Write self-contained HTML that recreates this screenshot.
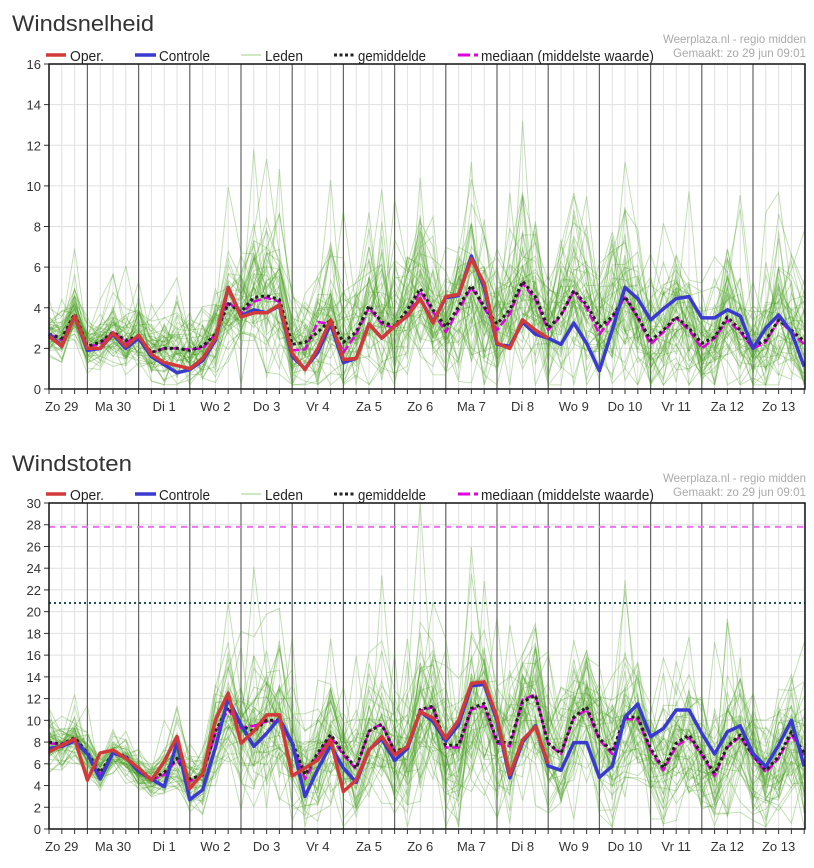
<!DOCTYPE html>
<html><head><meta charset="utf-8"><style>
body{margin:0;background:#fff;width:814px;height:868px;overflow:hidden;font-family:"Liberation Sans",sans-serif;}
svg{display:block}
</style></head><body>
<svg id="svg" width="814" height="868"></svg>
<script>
const days = ["Zo 29","Ma 30","Di 1","Wo 2","Do 3","Vr 4","Za 5","Zo 6","Ma 7","Di 8","Wo 9","Do 10","Vr 11","Za 12","Zo 13"];
// Windsnelheid
const speedOper = [2.6,2.1,3.6,2.0,2.0,2.75,2.1,2.65,1.7,1.3,1.15,1.0,1.5,2.5,5.0,3.55,3.75,3.75,4.15,1.75,0.95,2.0,3.4,1.45,1.5,3.2,2.5,3.1,3.6,4.45,3.25,4.55,4.65,6.4,5.2,2.25,2.0,3.4,2.9,2.5];
const speedCtrl = [2.7,2.1,3.6,1.9,2.0,2.7,2.0,2.5,1.6,1.2,0.8,0.95,1.4,2.4,5.0,3.6,3.9,3.75,4.1,1.6,1.0,1.8,3.2,1.3,1.5,3.2,2.5,3.1,3.6,4.45,3.3,4.5,4.6,6.55,5.0,2.2,2.1,3.3,2.7,2.5,2.2,3.25,2.25,0.9,2.9,5.0,4.45,3.4,3.95,4.45,4.55,3.5,3.5,3.9,3.6,2.0,3.0,3.65,2.8,1.1];
const speedMean = [2.7,2.5,3.7,2.1,2.3,2.8,2.4,2.6,1.8,2.0,2.0,1.9,2.1,2.7,4.2,3.8,4.5,4.6,4.4,2.2,2.3,2.8,3.4,2.3,2.8,4.1,3.3,3.1,3.9,4.95,3.9,3.05,4.05,5.1,4.05,3.2,3.9,5.3,4.55,3.0,3.65,4.85,4.15,3.05,3.55,4.55,3.55,2.4,2.9,3.55,3.0,2.25,2.55,3.55,2.9,2.1,2.4,3.4,2.9,2.35];
const speedMedian = [2.7,2.4,3.6,2.1,2.2,2.8,2.3,2.6,1.8,2.0,2.0,1.95,2.0,2.7,4.3,3.7,4.3,4.5,4.3,1.9,1.95,3.3,3.2,1.8,2.7,4.0,3.2,3.0,3.7,4.8,3.8,2.8,3.9,5.0,4.0,2.9,3.7,5.2,4.4,2.9,3.6,4.8,4.0,2.7,3.5,4.5,3.5,2.2,2.8,3.5,2.9,2.0,2.5,3.4,2.8,2.0,2.3,3.4,2.8,2.2];
const speedSpread = [0.5,0.5,0.6,0.5,0.6,0.7,0.7,0.8,0.7,0.8,0.8,0.8,0.9,1.1,1.3,1.4,1.6,1.7,1.6,1.3,1.3,1.6,1.7,1.4,1.5,1.8,1.6,1.6,1.8,2.0,1.7,1.6,1.8,2.0,1.8,1.6,1.7,2.0,1.8,1.5,1.6,1.9,1.7,1.5,1.7,1.9,1.7,1.4,1.5,1.7,1.5,1.3,1.4,1.6,1.5,1.3,1.4,1.6,1.5,1.4];
// Windstoten
const gustOper = [7.1,7.7,8.3,4.5,7.0,7.25,6.5,5.6,4.5,6.2,8.5,3.75,5.1,10.0,12.5,7.9,9.0,10.5,10.5,4.9,5.6,6.35,8.2,3.45,4.5,7.25,8.5,6.8,7.6,10.8,10.2,8.35,10.0,13.4,13.55,10.3,5.0,8.2,9.4,6.05];
const gustCtrl = [7.4,7.6,8.1,6.9,4.6,7.0,6.6,5.3,4.6,3.9,8.0,2.7,3.6,7.5,12.0,9.6,7.6,8.8,10.2,7.9,3.0,5.5,7.7,5.6,4.3,7.3,8.3,6.3,7.4,10.8,9.9,8.1,9.6,13.2,13.3,10.0,4.7,8.0,9.5,5.8,5.4,7.95,7.95,4.75,5.8,10.3,11.5,8.5,9.25,10.95,10.95,8.8,6.9,8.95,9.5,6.95,5.75,7.7,10.0,5.75];
const gustMean = [8.0,7.8,8.4,7.0,5.2,7.0,6.7,5.4,4.6,5.2,6.5,4.6,5.0,9.0,11.2,9.5,9.0,10.0,10.0,8.0,5.0,7.0,8.7,7.0,5.6,9.0,9.6,7.2,7.4,11.0,11.3,7.7,7.7,11.1,11.55,8.05,7.9,11.7,12.3,7.9,6.95,10.3,11.25,8.35,7.1,10.3,10.3,7.4,5.6,7.9,8.65,6.95,5.1,7.6,8.65,6.8,5.4,6.65,8.95,6.95];
const gustMedian = [7.9,7.8,8.3,6.9,5.0,6.9,6.6,5.3,4.5,5.0,6.4,4.4,4.9,8.8,11.0,9.3,9.5,9.9,9.9,7.8,4.6,6.8,8.5,6.8,5.5,9.0,9.7,7.1,7.4,10.9,11.2,7.5,7.5,11.0,11.3,7.9,7.6,11.9,12.4,7.8,6.9,10.2,11.0,8.2,6.9,10.1,10.1,7.2,5.4,7.6,8.4,6.8,4.9,7.5,8.5,6.7,5.2,6.5,8.7,6.8];
const gustSpread = [1.2,1.0,1.0,0.9,0.8,0.9,0.9,0.8,0.8,1.0,1.3,1.2,1.5,2.2,2.6,2.8,3.0,3.2,3.0,2.6,2.5,2.8,3.0,2.6,2.6,3.0,3.2,2.8,3.0,3.4,3.2,2.8,3.0,3.5,3.3,3.0,3.0,3.5,3.3,2.8,2.8,3.2,3.2,2.8,2.8,3.3,3.1,2.7,2.6,3.0,3.0,2.7,2.5,2.8,2.9,2.6,2.5,2.7,2.9,2.7];
const gustMaxLine = 27.8, gustMeanLine = 20.8;

const NS="http://www.w3.org/2000/svg";
const svg=document.getElementById('svg');
function el(tag,attrs,parent){const e=document.createElementNS(NS,tag);for(const k in attrs)e.setAttribute(k,attrs[k]);(parent||svg).appendChild(e);return e;}
const X0=49,X1=805,STEP=12.8;
const xAt=i=>X0+i*STEP;
// deterministic texture for ensemble members
let seed=12345;function rnd(){seed=(seed*1103515245+12345)%2147483648;return seed/2147483648;}
function gauss(){return (rnd()+rnd()+rnd()+rnd()-2)*1.7;}

function chart(cfg){
  const g=el('g',{});
  
  
  const yAt=v=>cfg.yb-(v/cfg.max)*(cfg.yb-cfg.yt);
  const t=el('text',{x:12,y:cfg.titleY,'font-size':22,fill:'#333',textLength:cfg.titleLen,lengthAdjust:'spacingAndGlyphs'},g);t.textContent=cfg.title;
  
  for(let i=0;i<60;i++){el('line',{x1:xAt(i),x2:xAt(i),y1:cfg.yt,y2:cfg.yb,stroke:'#e2e2e2','stroke-width':1},g);}
  for(let v=0;v<=cfg.max;v+=2){
    el('line',{x1:X0,x2:X1,y1:yAt(v),y2:yAt(v),stroke:'#e0e0e0','stroke-width':1},g);
    el('line',{x1:X0-5,x2:X0,y1:yAt(v),y2:yAt(v),stroke:'#333'},g);
    const tx=el('text',{x:X0-8,y:yAt(v)+5,'font-size':13,'text-anchor':'end',fill:'#333'},g);tx.textContent=v;
    
  }
  for(let d=1;d<15;d++){el('line',{x1:xAt(3+(d-1)*4),x2:xAt(3+(d-1)*4),y1:cfg.yt,y2:cfg.yb,stroke:'#666','stroke-width':1.2},g);}
  if(cfg.maxLine){
    const a=el('line',{x1:X0,x2:X1,y1:yAt(cfg.maxLine),y2:yAt(cfg.maxLine),stroke:'#f070f0','stroke-width':2,'stroke-dasharray':'6,5'},g);
    
    const b=el('line',{x1:X0,x2:X1,y1:yAt(cfg.meanLine),y2:yAt(cfg.meanLine),stroke:'#1f5050','stroke-width':2,'stroke-dasharray':'2,3'},g);
    
  }
  const mg=el('g',{},g);
  for(let k=0;k<50;k++){
    const bias=gauss()*0.6;let pts=[];
    for(let i=0;i<60;i++){let v=cfg.mean[i]+cfg.spread[i]*(bias+gauss()*0.8);if(rnd()<0.02)v+=cfg.spread[i]*3;v=Math.max(0.2,Math.min(cfg.max,v));pts.push(xAt(i).toFixed(1)+','+yAt(v).toFixed(1));}
    el('polyline',{points:pts.join(' '),fill:'none',stroke:'rgba(70,160,30,0.32)','stroke-width':1},mg);
  }
  function line(arr,attrs,name){const p=arr.map((v,i)=>xAt(i).toFixed(1)+','+yAt(v).toFixed(1)).join(' ');
    const l=el('polyline',Object.assign({points:p,fill:'none','stroke-linejoin':'round'},attrs),g);
    }
  line(cfg.median,{stroke:'#e000e0','stroke-width':2.5,'stroke-dasharray':'8,3'},'median-line');
  line(cfg.mean,{stroke:'#222','stroke-width':3,'stroke-dasharray':'3,3'},'mean-line');
  line(cfg.ctrl,{stroke:'#3a3ad0','stroke-width':3.5},'control-line');
  line(cfg.oper,{stroke:'#d23a3a','stroke-width':3.5},'oper-line');
  el('rect',{x:X0,y:cfg.yt,width:X1-X0,height:cfg.yb-cfg.yt,fill:'none',stroke:'#111','stroke-width':1.5},g);
  for(let i=0;i<60;i++)el('line',{x1:xAt(i),x2:xAt(i),y1:cfg.yb,y2:cfg.yb+5,stroke:'#333'},g);
  days.forEach((d,j)=>{const tx=el('text',{x:xAt(1+j*4),y:cfg.yb+22,'font-size':13,'text-anchor':'middle',fill:'#333'},g);tx.textContent=d;
    });
  const lg=el('g',{},g);
  const ly=cfg.legY;
  el('line',{x1:46,x2:66,y1:ly,y2:ly,stroke:'#d23a3a','stroke-width':3.5},lg);
  el('line',{x1:135,x2:156,y1:ly,y2:ly,stroke:'#3a3ad0','stroke-width':3.5},lg);
  el('line',{x1:241,x2:261,y1:ly,y2:ly,stroke:'#bfe0b0','stroke-width':1.5},lg);
  el('line',{x1:334,x2:355,y1:ly,y2:ly,stroke:'#222','stroke-width':3,'stroke-dasharray':'3,2.5'},lg);
  el('line',{x1:458,x2:478,y1:ly,y2:ly,stroke:'#e000e0','stroke-width':3,'stroke-dasharray':'12,4'},lg);
  [[70,'Oper.',34],[159,'Controle',51],[265,'Leden',38],[358,'gemiddelde',68],[481,'mediaan (middelste waarde)',173]].forEach(([x,s,w])=>{
    const tx=el('text',{x:x,y:ly+6,'font-size':15,fill:'#222',textLength:w,lengthAdjust:'spacingAndGlyphs'},lg);tx.textContent=s;});
  const r1=el('text',{x:806,y:ly-12,'font-size':12,'text-anchor':'end',fill:'#aaa',textLength:143,lengthAdjust:'spacingAndGlyphs'},g);r1.textContent='Weerplaza.nl - regio midden';
  const r2=el('text',{x:806,y:ly+2,'font-size':12,'text-anchor':'end',fill:'#aaa',textLength:133,lengthAdjust:'spacingAndGlyphs'},g);r2.textContent='Gemaakt: zo 29 jun 09:01';
}
chart({name:'windsnelheid-chart',title:'Windsnelheid',titleLen:142,titleY:31,legY:55,yt:64,yb:389,max:16,oper:speedOper,ctrl:speedCtrl,mean:speedMean,median:speedMedian,spread:speedSpread});
chart({name:'windstoten-chart',title:'Windstoten',titleLen:120,titleY:471,legY:494,yt:503,yb:829,max:30,oper:gustOper,ctrl:gustCtrl,mean:gustMean,median:gustMedian,spread:gustSpread,maxLine:gustMaxLine,meanLine:gustMeanLine});
</script>
</body></html>
